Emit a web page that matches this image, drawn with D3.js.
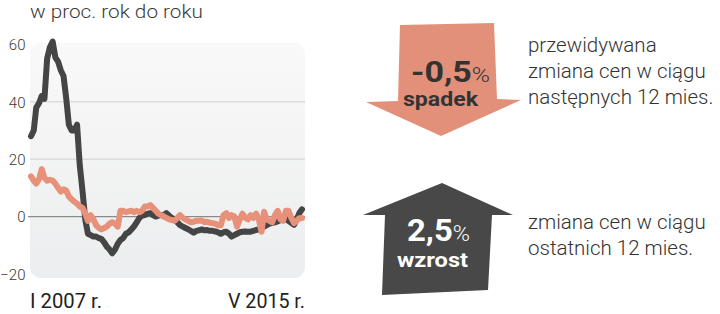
<!DOCTYPE html>
<html>
<head>
<meta charset="utf-8">
<script src="https://cdn.jsdelivr.net/npm/d3@7"></script>
<style>
html,body{margin:0;padding:0;background:#fff;}
svg{display:block;}
</style>
</head>
<body>
<svg id="c" width="720" height="314"></svg>
<script>
// ---- data ----
const startMonth = new Date(2007, 0, 1);   // I 2007
const endMonth = new Date(2015, 4, 1);     // V 2015
const months = d3.timeMonth.range(startMonth, d3.timeMonth.offset(endMonth, 1));

// current price change, y/y (%)
const currentChange = [
  28, 30, 38, 39.5, 42, 41, 55, 59, 61, 55.5,
  54, 51, 49, 41, 32, 30, 30, 32, 18, 9,
  -1, -6, -6.5, -7, -7, -7.5, -7.8, -9, -10.5, -11.5,
  -12.8, -11.5, -9.5, -8.2, -7.5, -6, -5.5, -4.5, -3.5, -2,
  -0.5, 0.3, 0.5, 1, 1.2, 0.5, 0, 0.3, 0.5, 0.5,
  1.2, 0.3, -0.5, -1, -2, -3, -3.5, -4, -4.5, -5,
  -5.6, -5, -4.8, -4.5, -4.8, -4.7, -5, -5, -5.2, -5.5,
  -6, -5.5, -5.3, -6, -7, -6.5, -6, -5.5, -5.3, -5.2,
  -5.3, -5.3, -5, -4.7, -4.5, -4, -3.5, -3, -2.5, -2.2,
  -2, -1.7, -1.2, -0.6, -1, -1.5, -2.2, -2.9, -1, 1.2,
  2.5
];
// expected price change in next 12 months (%)
const expectedChange = [
  14, 12.5, 11.5, 13, 16.5, 13.5, 12.5, 12.8, 12.5, 11.5,
  10, 8.7, 9.5, 9, 7, 6, 5.2, 4.5, 3.5, 3,
  1, -1.5, 0.5, -1, -3, -4, -4.5, -4, -3.5, -2.5,
  -2, -2.5, -3.5, 2, 2, 1.5, 1.8, 2, 1.5, 2,
  1.5, 2, 3.5, 3.5, 4, 3, 2, 1, 0.5, 0,
  -0.5, -1, -1.2, -1.5, -0.5, 0.5, -0.5, -1, -1.5, -2,
  -1.8, -1.5, -1.5, -1.4, -2, -1.8, -2.2, -2.3, -2.5, -3,
  -3, 0.5, 1.2, -0.5, 0.5, 0, -3.5, -1, 1, -0.5,
  -1, 0.5, -0.5, 1, -1, -5.3, 1.7, -1, -1.5, -2,
  0.5, 2, -1, -1.5, 2, 2, -0.5, -2.3, -1.5, -0.6,
  -0.5
];
const yTicks = [-20, 0, 20, 40, 60];
const xLabels = ["I 2007 r.", "V 2015 r."];
const title = "w proc. rok do roku";
const forecast = {value: "-0,5", unit: "%", word: "spadek",
  lines: ["przewidywana", "zmiana cen w ciągu", "następnych 12 mies."]};
const recent = {value: "2,5", unit: "%", word: "wzrost",
  lines: ["zmiana cen w ciągu", "ostatnich 12 mies."]};

// ---- drawing ----
const svg = d3.select("#c");
const plot = {l: 30, r: 305, t: 43, b: 278};
const x = d3.scaleTime().domain([startMonth, endMonth]).range([31, 302]);
const y = d3.scaleLinear().domain([-20, 60]).range([273.9, 44.4]);
const FONT = "Roboto, sans-serif";

const defs = svg.append("defs");
const grad = defs.append("linearGradient").attr("id", "bg").attr("x1", 0).attr("x2", 0).attr("y1", 0).attr("y2", 1);
grad.append("stop").attr("offset", "0%").attr("stop-color", "#f9f9f9");
grad.append("stop").attr("offset", "100%").attr("stop-color", "#ecedee");

svg.append("rect").attr("x", plot.l).attr("y", plot.t)
  .attr("width", plot.r - plot.l).attr("height", plot.b - plot.t)
  .attr("rx", 11).attr("fill", "url(#bg)");

// gridlines
svg.append("g").selectAll("line").data(yTicks.filter(d => d > 0 && d < 60)).join("line")
  .attr("x1", plot.l).attr("x2", plot.r)
  .attr("y1", d => y(d)).attr("y2", d => y(d))
  .attr("stroke", "#cfcfcf").attr("stroke-width", 1);
svg.append("line").attr("x1", 28).attr("x2", plot.r)
  .attr("y1", y(0)).attr("y2", y(0)).attr("stroke", "#8a8a8a").attr("stroke-width", 1.2);

// y axis
const yAxis = d3.axisLeft(y).tickValues(yTicks).tickSize(0).tickPadding(0);
const gy = svg.append("g").attr("transform", "translate(25.5,0)").call(yAxis);
gy.select(".domain").remove();
gy.selectAll("text").attr("font-family", FONT).attr("font-weight", 300)
  .attr("font-size", 15).attr("fill", "#3a3a3a").attr("dy", "0.35em");

// lines
const line = d3.line().x((d, i) => x(months[i])).y(d => y(d));
svg.append("path").datum(currentChange).attr("d", line)
  .attr("fill", "none").attr("stroke", "#454545").attr("stroke-width", 6)
  .attr("stroke-linejoin", "round").attr("stroke-linecap", "round");
svg.append("path").datum(expectedChange).attr("d", line)
  .attr("fill", "none").attr("stroke", "#e8917a").attr("stroke-width", 6)
  .attr("stroke-linejoin", "round").attr("stroke-linecap", "round");

// title
svg.append("text").attr("x", 30).attr("y", 18).text(title)
  .attr("font-family", FONT).attr("font-weight", 300)
  .attr("font-size", 18).attr("fill", "#3a3a3a")
  .attr("textLength", 173).attr("lengthAdjust", "spacingAndGlyphs");

// x labels
svg.append("text").attr("x", 30).attr("y", 308).text(xLabels[0])
  .attr("font-family", FONT).attr("font-size", 21).attr("fill", "#222")
  .attr("textLength", 72).attr("lengthAdjust", "spacingAndGlyphs");
svg.append("text").attr("x", 228).attr("y", 308).text(xLabels[1])
  .attr("font-family", FONT).attr("font-size", 21).attr("fill", "#222")
  .attr("textLength", 77).attr("lengthAdjust", "spacingAndGlyphs");

// down arrow
svg.append("path")
  .attr("d", "M400,25 L494,23 L497,99 L521,100 L441,136 L366,102 L398,101 Z")
  .attr("fill", "#e3907a");
const fv = svg.append("text").attr("x", 411).attr("y", 82)
  .attr("font-family", FONT).attr("fill", "#333")
  .attr("textLength", 79).attr("lengthAdjust", "spacingAndGlyphs");
fv.append("tspan").attr("font-weight", 700).attr("font-size", 29).text(forecast.value);
fv.append("tspan").attr("font-weight", 300).attr("font-size", 21).text(forecast.unit);
svg.append("text").attr("x", 403).attr("y", 106).text(forecast.word)
  .attr("font-family", FONT).attr("font-weight", 700)
  .attr("font-size", 21).attr("fill", "#333")
  .attr("textLength", 75).attr("lengthAdjust", "spacingAndGlyphs");
svg.append("g").selectAll("text").data(forecast.lines).join("text")
  .attr("x", 528).attr("y", (d, i) => 52 + i * 26).text(d => d)
  .attr("font-family", FONT).attr("font-weight", 300)
  .attr("font-size", 20.5).attr("fill", "#333");

// up arrow
svg.append("path")
  .attr("d", "M442,183 L513,215 L492,215 L488,290 L382,295 L385,215 L363,215 Z")
  .attr("fill", "#484848");
const rv = svg.append("text").attr("x", 407).attr("y", 241)
  .attr("font-family", FONT).attr("fill", "#fff")
  .attr("textLength", 63).attr("lengthAdjust", "spacingAndGlyphs");
rv.append("tspan").attr("font-weight", 700).attr("font-size", 31).text(recent.value);
rv.append("tspan").attr("font-weight", 300).attr("font-size", 22).text(recent.unit);
svg.append("text").attr("x", 397).attr("y", 267).text(recent.word)
  .attr("font-family", FONT).attr("font-weight", 700)
  .attr("font-size", 21).attr("fill", "#fff")
  .attr("textLength", 71).attr("lengthAdjust", "spacingAndGlyphs");
svg.append("g").selectAll("text").data(recent.lines).join("text")
  .attr("x", 528).attr("y", (d, i) => 229 + i * 26).text(d => d)
  .attr("font-family", FONT).attr("font-weight", 300)
  .attr("font-size", 20.5).attr("fill", "#333");
</script>
</body>
</html>
